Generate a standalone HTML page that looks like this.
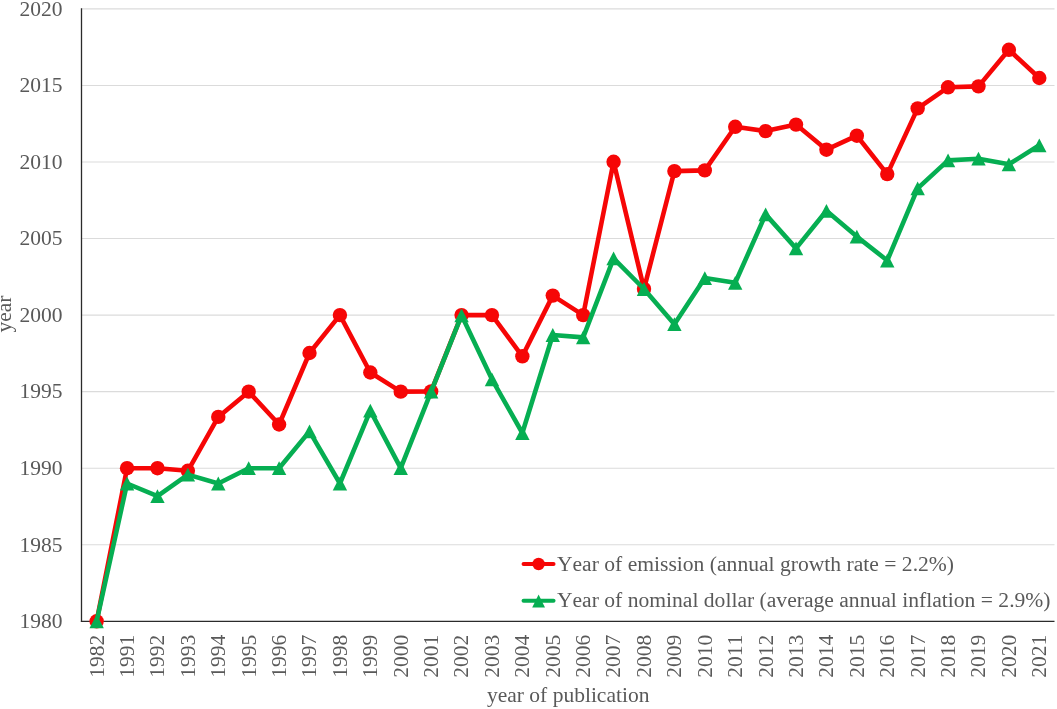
<!DOCTYPE html>
<html><head><meta charset="utf-8"><title>chart</title>
<style>
html,body{margin:0;padding:0;background:#fff;}
body{width:1057px;height:709px;overflow:hidden;font-family:"Liberation Serif",serif;}
svg{display:block;will-change:transform;}
svg text{font-family:"Liberation Serif",serif;font-size:21.52px;fill:#595959;font-kerning:none;}
</style></head><body>
<svg width="1057" height="709" viewBox="0 0 1057 709">
<rect width="1057" height="709" fill="#ffffff"/>
<g stroke="#dbdbdb" stroke-width="1.1" fill="none">
<line x1="81.5" y1="544.75" x2="1054.5" y2="544.75"/>
<line x1="81.5" y1="468.20" x2="1054.5" y2="468.20"/>
<line x1="81.5" y1="391.65" x2="1054.5" y2="391.65"/>
<line x1="81.5" y1="315.10" x2="1054.5" y2="315.10"/>
<line x1="81.5" y1="238.55" x2="1054.5" y2="238.55"/>
<line x1="81.5" y1="162.00" x2="1054.5" y2="162.00"/>
<line x1="81.5" y1="85.45" x2="1054.5" y2="85.45"/>
<line x1="81.5" y1="8.90" x2="1054.5" y2="8.90"/>
</g>
<g stroke="#2b2b2b" stroke-width="1.3" fill="none">
<line x1="81.5" y1="8.20" x2="81.5" y2="621.90"/>
<line x1="80.9" y1="621.30" x2="1054.5" y2="621.30"/>
</g>
<g text-anchor="end">
<text x="62.5" y="628.10">1980</text>
<text x="62.5" y="551.55">1985</text>
<text x="62.5" y="475.00">1990</text>
<text x="62.5" y="398.45">1995</text>
<text x="62.5" y="321.90">2000</text>
<text x="62.5" y="245.35">2005</text>
<text x="62.5" y="168.80">2010</text>
<text x="62.5" y="92.25">2015</text>
<text x="62.5" y="15.70">2020</text>
</g>
<g text-anchor="end">
<text transform="translate(103.55,634.8) rotate(-90)">1982</text>
<text transform="translate(133.96,634.8) rotate(-90)">1991</text>
<text transform="translate(164.37,634.8) rotate(-90)">1992</text>
<text transform="translate(194.78,634.8) rotate(-90)">1993</text>
<text transform="translate(225.19,634.8) rotate(-90)">1994</text>
<text transform="translate(255.59,634.8) rotate(-90)">1995</text>
<text transform="translate(286.00,634.8) rotate(-90)">1996</text>
<text transform="translate(316.41,634.8) rotate(-90)">1997</text>
<text transform="translate(346.82,634.8) rotate(-90)">1998</text>
<text transform="translate(377.22,634.8) rotate(-90)">1999</text>
<text transform="translate(407.63,634.8) rotate(-90)">2000</text>
<text transform="translate(438.04,634.8) rotate(-90)">2001</text>
<text transform="translate(468.45,634.8) rotate(-90)">2002</text>
<text transform="translate(498.86,634.8) rotate(-90)">2003</text>
<text transform="translate(529.26,634.8) rotate(-90)">2004</text>
<text transform="translate(559.67,634.8) rotate(-90)">2005</text>
<text transform="translate(590.08,634.8) rotate(-90)">2006</text>
<text transform="translate(620.49,634.8) rotate(-90)">2007</text>
<text transform="translate(650.89,634.8) rotate(-90)">2008</text>
<text transform="translate(681.30,634.8) rotate(-90)">2009</text>
<text transform="translate(711.71,634.8) rotate(-90)">2010</text>
<text transform="translate(742.12,634.8) rotate(-90)">2011</text>
<text transform="translate(772.53,634.8) rotate(-90)">2012</text>
<text transform="translate(802.93,634.8) rotate(-90)">2013</text>
<text transform="translate(833.34,634.8) rotate(-90)">2014</text>
<text transform="translate(863.75,634.8) rotate(-90)">2015</text>
<text transform="translate(894.16,634.8) rotate(-90)">2016</text>
<text transform="translate(924.56,634.8) rotate(-90)">2017</text>
<text transform="translate(954.97,634.8) rotate(-90)">2018</text>
<text transform="translate(985.38,634.8) rotate(-90)">2019</text>
<text transform="translate(1015.79,634.8) rotate(-90)">2020</text>
<text transform="translate(1046.20,634.8) rotate(-90)">2021</text>
</g>
<text x="568.2" y="702.1" text-anchor="middle">year of publication</text>
<text transform="translate(10.8,314.0) rotate(-90)" text-anchor="middle">year</text>
<polyline points="96.65,621.30 127.06,468.20 157.47,468.20 187.88,470.80 218.29,416.90 248.69,391.65 279.10,424.50 309.51,353.00 339.92,315.10 370.32,372.50 400.73,391.65 431.14,391.40 461.55,315.10 491.96,315.10 522.36,356.30 552.77,295.60 583.18,315.10 613.59,161.80 643.99,288.90 674.40,171.10 704.81,170.40 735.22,126.80 765.63,131.10 796.03,124.60 826.44,149.70 856.85,135.70 887.26,174.10 917.66,108.40 948.07,87.30 978.48,86.40 1008.89,49.80 1039.30,78.00" fill="none" stroke="#f60606" stroke-width="4.6" stroke-linejoin="round" stroke-linecap="round"/>
<g fill="#f60606">
<circle cx="96.65" cy="621.30" r="7.2"/>
<circle cx="127.06" cy="468.20" r="7.2"/>
<circle cx="157.47" cy="468.20" r="7.2"/>
<circle cx="187.88" cy="470.80" r="7.2"/>
<circle cx="218.29" cy="416.90" r="7.2"/>
<circle cx="248.69" cy="391.65" r="7.2"/>
<circle cx="279.10" cy="424.50" r="7.2"/>
<circle cx="309.51" cy="353.00" r="7.2"/>
<circle cx="339.92" cy="315.10" r="7.2"/>
<circle cx="370.32" cy="372.50" r="7.2"/>
<circle cx="400.73" cy="391.65" r="7.2"/>
<circle cx="431.14" cy="391.40" r="7.2"/>
<circle cx="461.55" cy="315.10" r="7.2"/>
<circle cx="491.96" cy="315.10" r="7.2"/>
<circle cx="522.36" cy="356.30" r="7.2"/>
<circle cx="552.77" cy="295.60" r="7.2"/>
<circle cx="583.18" cy="315.10" r="7.2"/>
<circle cx="613.59" cy="161.80" r="7.2"/>
<circle cx="643.99" cy="288.90" r="7.2"/>
<circle cx="674.40" cy="171.10" r="7.2"/>
<circle cx="704.81" cy="170.40" r="7.2"/>
<circle cx="735.22" cy="126.80" r="7.2"/>
<circle cx="765.63" cy="131.10" r="7.2"/>
<circle cx="796.03" cy="124.60" r="7.2"/>
<circle cx="826.44" cy="149.70" r="7.2"/>
<circle cx="856.85" cy="135.70" r="7.2"/>
<circle cx="887.26" cy="174.10" r="7.2"/>
<circle cx="917.66" cy="108.40" r="7.2"/>
<circle cx="948.07" cy="87.30" r="7.2"/>
<circle cx="978.48" cy="86.40" r="7.2"/>
<circle cx="1008.89" cy="49.80" r="7.2"/>
<circle cx="1039.30" cy="78.00" r="7.2"/>
</g>
<polyline points="96.65,621.30 127.06,483.50 157.47,496.20 187.88,474.60 218.29,483.50 248.69,468.20 279.10,468.20 309.51,431.40 339.92,483.50 370.32,410.70 400.73,468.20 431.14,391.65 461.55,315.30 491.96,379.30 522.36,433.00 552.77,335.00 583.18,337.40 613.59,258.40 643.99,289.00 674.40,324.20 704.81,278.10 735.22,282.80 765.63,214.40 796.03,248.40 826.44,210.80 856.85,236.60 887.26,260.50 917.66,188.40 948.07,160.40 978.48,158.70 1008.89,164.30 1039.30,145.30" fill="none" stroke="#06ae52" stroke-width="4.6" stroke-linejoin="round" stroke-linecap="round"/>
<g fill="#06ae52">
<path d="M96.65 614.40 L103.85 628.20 L89.45 628.20 Z"/>
<path d="M127.06 476.60 L134.26 490.40 L119.86 490.40 Z"/>
<path d="M157.47 489.30 L164.67 503.10 L150.27 503.10 Z"/>
<path d="M187.88 467.70 L195.08 481.50 L180.68 481.50 Z"/>
<path d="M218.29 476.60 L225.49 490.40 L211.09 490.40 Z"/>
<path d="M248.69 461.30 L255.89 475.10 L241.49 475.10 Z"/>
<path d="M279.10 461.30 L286.30 475.10 L271.90 475.10 Z"/>
<path d="M309.51 424.50 L316.71 438.30 L302.31 438.30 Z"/>
<path d="M339.92 476.60 L347.12 490.40 L332.72 490.40 Z"/>
<path d="M370.32 403.80 L377.52 417.60 L363.12 417.60 Z"/>
<path d="M400.73 461.30 L407.93 475.10 L393.53 475.10 Z"/>
<path d="M431.14 384.75 L438.34 398.55 L423.94 398.55 Z"/>
<path d="M461.55 308.40 L468.75 322.20 L454.35 322.20 Z"/>
<path d="M491.96 372.40 L499.16 386.20 L484.76 386.20 Z"/>
<path d="M522.36 426.10 L529.56 439.90 L515.16 439.90 Z"/>
<path d="M552.77 328.10 L559.97 341.90 L545.57 341.90 Z"/>
<path d="M583.18 330.50 L590.38 344.30 L575.98 344.30 Z"/>
<path d="M613.59 251.50 L620.79 265.30 L606.39 265.30 Z"/>
<path d="M643.99 282.10 L651.19 295.90 L636.79 295.90 Z"/>
<path d="M674.40 317.30 L681.60 331.10 L667.20 331.10 Z"/>
<path d="M704.81 271.20 L712.01 285.00 L697.61 285.00 Z"/>
<path d="M735.22 275.90 L742.42 289.70 L728.02 289.70 Z"/>
<path d="M765.63 207.50 L772.83 221.30 L758.43 221.30 Z"/>
<path d="M796.03 241.50 L803.23 255.30 L788.83 255.30 Z"/>
<path d="M826.44 203.90 L833.64 217.70 L819.24 217.70 Z"/>
<path d="M856.85 229.70 L864.05 243.50 L849.65 243.50 Z"/>
<path d="M887.26 253.60 L894.46 267.40 L880.06 267.40 Z"/>
<path d="M917.66 181.50 L924.86 195.30 L910.46 195.30 Z"/>
<path d="M948.07 153.50 L955.27 167.30 L940.87 167.30 Z"/>
<path d="M978.48 151.80 L985.68 165.60 L971.28 165.60 Z"/>
<path d="M1008.89 157.40 L1016.09 171.20 L1001.69 171.20 Z"/>
<path d="M1039.30 138.40 L1046.50 152.20 L1032.10 152.20 Z"/>
</g>
<g>
<line x1="523.6" y1="564.0" x2="553.5" y2="564.0" stroke="#f60606" stroke-width="4.1" stroke-linecap="round"/>
<circle cx="538.6" cy="564.0" r="6.2" fill="#f60606"/>
<line x1="523.6" y1="600.8" x2="553.5" y2="600.8" stroke="#06ae52" stroke-width="4.1" stroke-linecap="round"/>
<path d="M538.6 594.6 L545.0 607.6 L532.2 607.6 Z" fill="#06ae52"/>
<text x="556.9" y="570.5" style="font-size:21.6px">Year of emission (annual growth rate = 2.2%)</text>
<text x="556.9" y="607.1" style="font-size:21.6px">Year of nominal dollar (average annual inflation = 2.9%)</text>
</g>
</svg>
</body></html>
